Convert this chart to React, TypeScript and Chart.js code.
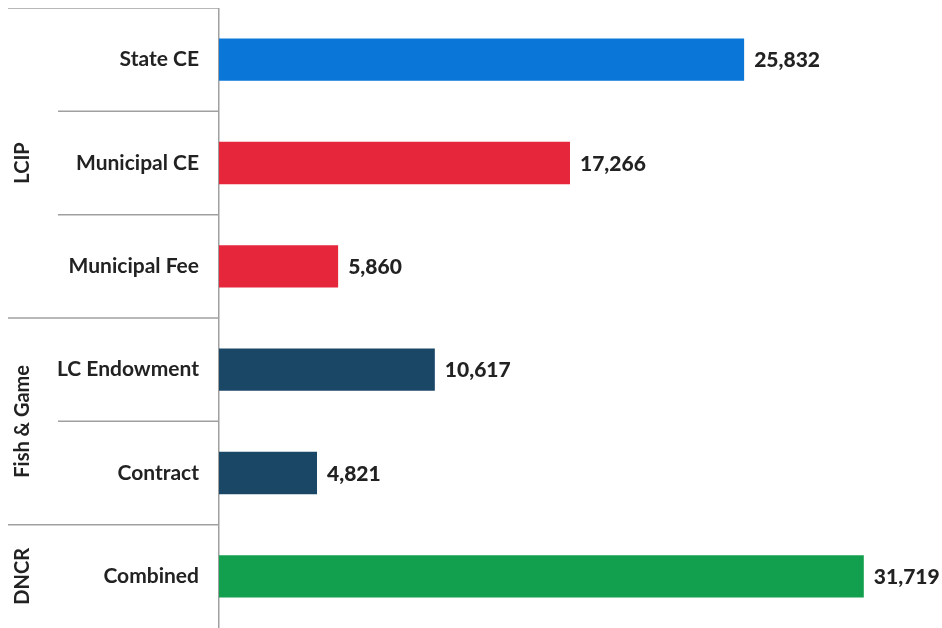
import React, { useEffect, useRef } from "react";
import { Chart, registerables } from "chart.js";

Chart.register(...registerables);

const categories = ["State CE", "Municipal CE", "Municipal Fee", "LC Endowment", "Contract", "Combined"];
const values = [25832, 17266, 5860, 10617, 4821, 31719];
const barColors = ["#0A76D8", "#E6263B", "#E6263B", "#1B4767", "#1B4767", "#13A04E"];
const groupNames = ["LCIP", "Fish & Game", "DNCR"];
const groupStarts = [0, 3, 5];
const groupEnds = [2, 4, 5];

const FONT = "Lato, 'Open Sans', sans-serif";

const groupPlugin = {
  id: "groupPlugin",
  afterDraw(chart: any) {
    const ctx = chart.ctx;
    const y = chart.scales.y;
    const axisX = y.right;
    const n = categories.length;
    const band = (i: number) => {
      const c = y.getPixelForValue(i);
      const half = (y.getPixelForValue(1) - y.getPixelForValue(0)) / 2;
      return [c - half, c + half];
    };
    ctx.save();
    ctx.strokeStyle = "#a0a0a0";
    ctx.lineWidth = 1.5;
    for (let i = 0; i < n; i++) {
      const top = band(i)[0];
      const isGroupStart = groupStarts.includes(i);
      ctx.beginPath();
      ctx.moveTo(isGroupStart ? 0 : 50, top);
      ctx.lineTo(axisX, top);
      ctx.stroke();
    }
    ctx.fillStyle = "#222";
    ctx.font = `bold 20px ${FONT}`;
    ctx.textAlign = "center";
    ctx.textBaseline = "middle";
    for (let g = 0; g < groupNames.length; g++) {
      const top = band(groupStarts[g])[0];
      const bottom = band(groupEnds[g])[1];
      ctx.save();
      ctx.translate(15, (top + bottom) / 2);
      ctx.rotate(-Math.PI / 2);
      ctx.fillText(groupNames[g], 0, 0);
      ctx.restore();
    }
    ctx.restore();
  },
  afterDatasetsDraw(chart: any) {
    const ctx = chart.ctx;
    const meta = chart.getDatasetMeta(0);
    ctx.save();
    ctx.fillStyle = "#222";
    ctx.font = `900 21px ${FONT}`;
    ctx.textAlign = "left";
    ctx.textBaseline = "middle";
    meta.data.forEach((bar: any, i: number) => {
      ctx.fillText(values[i].toLocaleString("en-US"), bar.x + 10, bar.y + 1);
    });
    ctx.restore();
  },
};

export default function App() {
  const ref = useRef<HTMLCanvasElement>(null);
  useEffect(() => {
    document.body.style.margin = "0";
    if (!ref.current) return;
    const chart = new Chart(ref.current, {
      type: "bar",
      data: {
        labels: categories,
        datasets: [
          {
            data: values,
            backgroundColor: barColors,
            borderWidth: 0,
            barPercentage: 0.41,
            categoryPercentage: 1,
          },
        ],
      },
      options: {
        indexAxis: "y",
        animation: false,
        responsive: false,
        layout: { padding: { left: 0, right: 11.5, top: 0, bottom: 0 } },
        plugins: { legend: { display: false }, tooltip: { enabled: false } },
        scales: {
          x: {
            display: false,
            min: 0,
            max: 35000,
          },
          y: {
            afterFit(scale: any) {
              scale.width = 211;
              scale.paddingTop = 0;
              scale.paddingBottom = 0;
            },
            grid: { display: false, drawTicks: false },
            border: { display: true, color: "#a0a0a0", width: 1.5 },
            ticks: {
              padding: 20,
              color: "#222",
              font: { family: FONT, size: 21, weight: "bold" },
            },
          },
        },
      },
      plugins: [groupPlugin],
    });
    return () => chart.destroy();
  }, []);
  return (
    <canvas
      ref={ref}
      width={934}
      height={620}
      style={{ display: "block", marginLeft: 8, marginTop: 8 }}
    />
  );
}
